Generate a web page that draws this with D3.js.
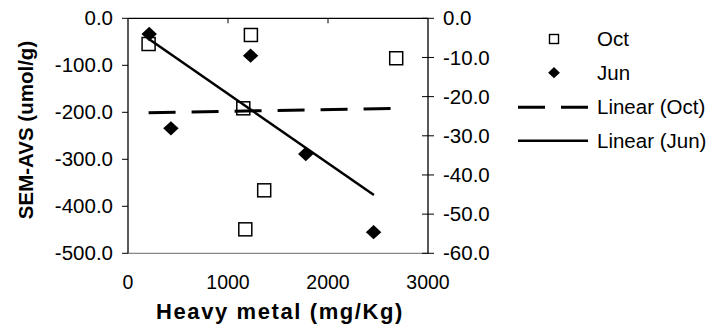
<!DOCTYPE html>
<html>
<head>
<meta charset="utf-8">
<style>
  body { margin: 0; background: #fff; }
  svg text { font-family: "Liberation Sans", Arial, sans-serif; fill: #000; }
</style>
</head>
<body>
<svg id="chart" width="712" height="328"></svg>
<script src="https://cdn.jsdelivr.net/npm/d3@7"></script>
<script>
// data
const octX = [206, 1229, 1153, 1362, 1173, 2682]
const octY = [-54.7, -35.5, -191.5, -366, -449, -85]
const junX = [212, 1226, 429, 1778, 2456]
const junY = [-33.4, -79.6, -234, -288.7, -455]
// fitted trend lines (end points)
const octTrendX = [206, 2682]
const octTrendY = [-201, -191.5]
const junTrendX = [212, 2459]
const junTrendY = [-44.7, -376]
// ticks
const xTicks = [0, 1000, 2000, 3000]
const yTicks = [0, -100, -200, -300, -400, -500]
const y2Ticks = [0, -10, -20, -30, -40, -50, -60]
const legendLabels = ["Oct", "Jun", "Linear (Oct)", "Linear (Jun)"]

const svg = d3.select("#chart")
const pLeft = 128, pRight = 428, pTop = 18.3, pBottom = 253.3

let x = d3.scaleLinear().domain([0, 3000]).range([pLeft, pRight])
let y = d3.scaleLinear().domain([-500, 0]).range([pBottom, pTop])
let y2 = d3.scaleLinear().domain([-60, 0]).range([pBottom, pTop])

// plot area border (bottom)
svg.append("line")
  .attr("x1", pLeft).attr("x2", pRight)
  .attr("y1", pBottom).attr("y2", pBottom)
  .attr("stroke", "#888").attr("stroke-width", 1.3)

// x axis sits at y = 0 (top) with ticks inward, labels at bottom
svg.append("line")
  .attr("x1", pLeft).attr("x2", pRight)
  .attr("y1", y(0)).attr("y2", y(0))
  .attr("stroke", "#000").attr("stroke-width", 1.3)
svg.selectAll(".xt").data(xTicks.slice(1, 3)).enter().append("line")
  .attr("x1", d => x(d)).attr("x2", d => x(d))
  .attr("y1", y(0)).attr("y2", y(0) + 5)
  .attr("stroke", "#000").attr("stroke-width", 1)
svg.selectAll(".xl").data(xTicks).enter().append("text")
  .attr("x", d => x(d)).attr("y", 288.5)
  .attr("text-anchor", "middle")
  .style("font-size", "19.5px")
  .text(d => d)

// left axis
svg.append("line")
  .attr("x1", pLeft).attr("x2", pLeft)
  .attr("y1", pTop).attr("y2", pBottom)
  .attr("stroke", "#000").attr("stroke-width", 1.3)
svg.selectAll(".yt").data(yTicks).enter().append("line")
  .attr("x1", pLeft - 6).attr("x2", pLeft)
  .attr("y1", d => y(d)).attr("y2", d => y(d))
  .attr("stroke", "#000").attr("stroke-width", 1)
svg.selectAll(".yl").data(yTicks).enter().append("text")
  .attr("x", 113).attr("y", d => y(d))
  .attr("dy", "0.35em")
  .attr("text-anchor", "end")
  .style("font-size", "20.5px")
  .text(d => d.toFixed(1))

// right axis
svg.append("line")
  .attr("x1", pRight).attr("x2", pRight)
  .attr("y1", pTop).attr("y2", pBottom)
  .attr("stroke", "#000").attr("stroke-width", 1.3)
svg.selectAll(".y2t").data(y2Ticks).enter().append("line")
  .attr("x1", pRight - 6).attr("x2", pRight + 6)
  .attr("y1", d => y2(d)).attr("y2", d => y2(d))
  .attr("stroke", "#000").attr("stroke-width", 1)
svg.selectAll(".y2l").data(y2Ticks).enter().append("text")
  .attr("x", 443).attr("y", d => y2(d))
  .attr("dy", "0.35em")
  .style("font-size", "20.5px")
  .text(d => d.toFixed(1))

// axis titles
svg.append("text")
  .attr("transform", "translate(33,130) rotate(-90)")
  .attr("text-anchor", "middle")
  .style("font-size", "20.5px").style("font-weight", "bold")
  .text("SEM-AVS (umol/g)")
svg.append("text")
  .attr("x", 280).attr("y", 319.3)
  .attr("text-anchor", "middle")
  .style("font-size", "22px").style("font-weight", "bold")
  .style("letter-spacing", "1.6px")
  .text("Heavy metal (mg/Kg)")

// Oct squares
svg.selectAll(".oct").data(octX).enter().append("rect")
  .attr("x", (d, i) => x(d) - 6.5).attr("y", (d, i) => y(octY[i]) - 6.5)
  .attr("width", 13).attr("height", 13)
  .attr("fill", "#fff").attr("stroke", "#000").attr("stroke-width", 1.5)

// trend lines
let line = d3.line().x(d => x(d[0])).y(d => y(d[1]))
svg.append("path")
  .attr("d", line(d3.zip(octTrendX, octTrendY)))
  .attr("fill", "none").attr("stroke", "#000")
  .attr("stroke-width", 3).attr("stroke-dasharray", "27,16")
svg.append("path")
  .attr("d", line(d3.zip(junTrendX, junTrendY)))
  .attr("fill", "none").attr("stroke", "#000")
  .attr("stroke-width", 2.5)

// Jun diamonds
let diamond = d3.symbol().type(d3.symbolDiamond2).size(130)
svg.selectAll(".jun").data(junX).enter().append("path")
  .attr("d", diamond)
  .attr("transform", (d, i) => `translate(${x(d)},${y(junY[i])}) scale(1.08,1)`)
  .attr("fill", "#000")

// legend
let lg = svg.append("g")
let ly = [39, 72.7, 107.3, 140.7]
lg.selectAll("text").data(legendLabels).enter().append("text")
  .attr("x", 597)
  .attr("y", (d, i) => ly[i])
  .attr("dy", "0.35em")
  .style("font-size", "20.5px")
  .text(d => d)
lg.append("rect")
  .attr("x", 549.5).attr("y", ly[0] - 4.5).attr("width", 9).attr("height", 9)
  .attr("fill", "#fff").attr("stroke", "#000").attr("stroke-width", 1.4)
lg.append("path")
  .attr("d", d3.symbol().type(d3.symbolDiamond2).size(80))
  .attr("transform", `translate(554,${ly[1]}) scale(1.05,1)`)
  .attr("fill", "#000")
lg.append("line")
  .attr("x1", 518).attr("x2", 588).attr("y1", ly[2]).attr("y2", ly[2])
  .attr("stroke", "#000").attr("stroke-width", 3).attr("stroke-dasharray", "27,16")
lg.append("line")
  .attr("x1", 518).attr("x2", 588).attr("y1", ly[3]).attr("y2", ly[3])
  .attr("stroke", "#000").attr("stroke-width", 2.5)
</script>
</body>
</html>
